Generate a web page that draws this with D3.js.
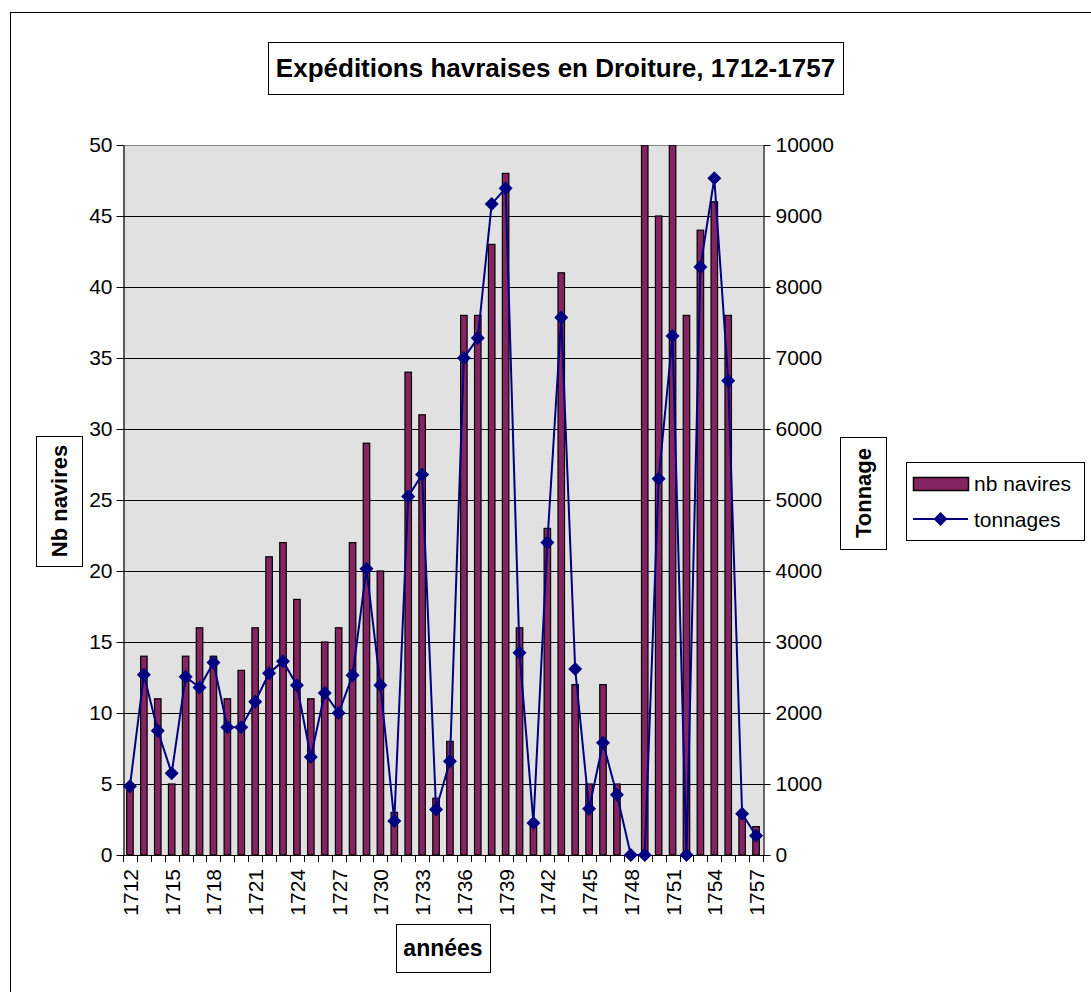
<!DOCTYPE html>
<html><head><meta charset="utf-8">
<script src="https://cdn.jsdelivr.net/npm/d3@7"></script>
<style>body{margin:0;background:#fff;}svg{display:block;font-family:"Liberation Sans",Arial,sans-serif;}</style>
</head><body>
<script>
const years = d3.range(1712, 1758);
const navires = [5,14,11,5,14,16,14,11,13,16,21,22,18,11,15,16,22,29,20,3,34,31,4,8,38,38,43,48,16,2,23,41,12,5,12,5,0,50,45,50,38,44,46,38,3,2];
const tonnages = [970,2540,1750,1150,2510,2360,2710,1800,1800,2160,2560,2730,2390,1380,2280,2000,2530,4030,2390,480,5050,5360,640,1320,7000,7280,9170,9390,2850,450,4400,7570,2620,650,1580,850,0,0,5300,7310,0,8280,9530,6680,580,270];
const leftTicks = [0,5,10,15,20,25,30,35,40,45,50];
const rightTicks = [0,1000,2000,3000,4000,5000,6000,7000,8000,9000,10000];
const yearLabels = years.filter((y,i)=> i%3===0);

const W=1091,H=992;
const svg=d3.select("body").append("svg").attr("width",W).attr("height",H);
svg.append("rect").attr("x",10.5).attr("y",12.5).attr("width",1100).attr("height",1000).attr("fill","#fff").attr("stroke","#000");

const L=123,R=763,T=145,B=855;
const x=d3.scaleBand().domain(years).range([L,R]).padding(0);
const yL=d3.scaleLinear().domain([0,50]).range([B,T]);
const yR=d3.scaleLinear().domain([0,10000]).range([B,T]);

svg.append("rect").attr("x",L).attr("y",T).attr("width",R-L).attr("height",B-T).attr("fill","#e1e1e1");
svg.append("g").selectAll("line").data(leftTicks.filter(d=>d>0&&d<50)).join("line")
  .attr("x1",L).attr("x2",R).attr("y1",d=>Math.round(yL(d))+0.5).attr("y2",d=>Math.round(yL(d))+0.5)
  .attr("stroke","#000").attr("stroke-width",1);
svg.append("line").attr("x1",L).attr("x2",R).attr("y1",T+0.5).attr("y2",T+0.5).attr("stroke","#888").attr("stroke-width",1);

const bw=6.5;
svg.append("clipPath").attr("id","pc").append("rect").attr("x",L).attr("y",T).attr("width",R-L).attr("height",B-T);
svg.append("g").attr("clip-path","url(#pc)").selectAll("rect").data(years).join("rect")
  .attr("x",d=>x(d)+x.bandwidth()/2-bw/2).attr("width",bw)
  .attr("y",(d,i)=>yL(navires[i])).attr("height",(d,i)=>B-yL(navires[i]))
  .attr("fill","#852462").attr("stroke","#000").attr("stroke-width",1.2);

const font='"Liberation Sans", Arial, sans-serif';
const gl=svg.append("g").attr("transform",`translate(${L+0.5},0)`)
  .call(d3.axisLeft(yL).tickValues(leftTicks).tickSize(7).tickSizeOuter(0).tickPadding(4));
const gr=svg.append("g").attr("transform",`translate(${R+0.5},0)`)
  .call(d3.axisRight(yR).tickValues(rightTicks).tickFormat(d3.format("d")).tickSize(7).tickSizeOuter(0).tickPadding(5));
[gl,gr].forEach(g=>{g.select(".domain").attr("stroke","#000").attr("stroke-width",1.2);
  g.selectAll("text").attr("font-size",21).attr("fill","#000").attr("font-family",font);
  g.selectAll(".tick line").attr("stroke","#000");});

const gx=svg.append("g");
gx.append("line").attr("x1",L).attr("x2",R).attr("y1",B+0.5).attr("y2",B+0.5).attr("stroke","#000").attr("stroke-width",1.2);
const bounds=years.map(d=>x(d)).concat([R]);
gx.selectAll("line.tk").data(bounds).join("line").attr("class","tk")
  .attr("x1",d=>Math.round(d)+0.5).attr("x2",d=>Math.round(d)+0.5).attr("y1",B).attr("y2",B+7).attr("stroke","#000");
gx.selectAll("text").data(yearLabels).join("text")
  .attr("transform",d=>`translate(${x(d)+x.bandwidth()/2+8},${B+14}) rotate(-90)`)
  .attr("text-anchor","end").attr("font-size",21).text(d=>d);

const line=d3.line().x((d,i)=>x(years[i])+x.bandwidth()/2).y(d=>yR(d));
svg.append("path").datum(tonnages).attr("d",line).attr("fill","none").attr("stroke","#000080").attr("stroke-width",2);
const dia="M0,-7L7,0L0,7L-7,0Z";
svg.append("g").selectAll("path").data(tonnages).join("path")
  .attr("transform",(d,i)=>`translate(${x(years[i])+x.bandwidth()/2},${yR(d)})`)
  .attr("d",dia).attr("fill","#000080");

function box(x0,y0,w,h){svg.append("rect").attr("x",x0+0.5).attr("y",y0+0.5).attr("width",w).attr("height",h).attr("fill","#fff").attr("stroke","#000");}
box(268,42,575,52);
svg.append("text").attr("x",555.5).attr("y",77).attr("text-anchor","middle").attr("font-size",26).attr("font-weight","bold").text("Expéditions havraises en Droiture, 1712-1757");
box(36,436,46,130);
svg.append("text").attr("transform","translate(67,501) rotate(-90)").attr("text-anchor","middle").attr("font-size",22).attr("font-weight","bold").text("Nb navires");
box(840,437,46,112);
svg.append("text").attr("transform","translate(871,493) rotate(-90)").attr("text-anchor","middle").attr("font-size",22).attr("font-weight","bold").text("Tonnage");
box(396,924,94,48);
svg.append("text").attr("x",443).attr("y",956).attr("text-anchor","middle").attr("font-size",23).attr("font-weight","bold").text("années");

box(906,462,178,78);
svg.append("rect").attr("x",913.5).attr("y",477.5).attr("width",55).attr("height",13).attr("fill","#852462").attr("stroke","#000").attr("stroke-width",1.5);
svg.append("text").attr("x",974).attr("y",491).attr("font-size",21).text("nb navires");
svg.append("line").attr("x1",913).attr("x2",968).attr("y1",519).attr("y2",519).attr("stroke","#000080").attr("stroke-width",2);
svg.append("path").attr("d",dia).attr("transform","translate(940.5,519)").attr("fill","#000080");
svg.append("text").attr("x",974).attr("y",527).attr("font-size",21).text("tonnages");
</script>
</body></html>
